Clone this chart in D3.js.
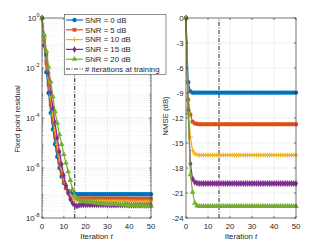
<!DOCTYPE html>
<html>
<head>
<meta charset="utf-8">
<script src="https://cdn.jsdelivr.net/npm/d3@7"></script>
<style>
  body { margin: 0; background: #fff; }
  text { font-family: "Liberation Sans", Arial, sans-serif; fill: #262626; }
</style>
</head>
<body>
<script>
// iterations 0..50
var iters = d3.range(0, 51);
var labels = ['SNR = 0 dB', 'SNR = 5 dB', 'SNR = 10 dB', 'SNR = 15 dB', 'SNR = 20 dB'];
var colors = ['#0072BD', '#D95319', '#EDB120', '#7E2F8E', '#77AC30'];
var shapes = ['circle', 'square', 'plus', 'diamond', 'triangle'];
var trainIter = 15;

// fixed point residual, one per SNR
var res0 = [1, 7.9e-2, 6.8e-3, 1.0e-3, 1.6e-4, 3.5e-5, 8.9e-6, 2.8e-6, 1.0e-6, 4.5e-7,
  2.5e-7, 1.6e-7, 1.2e-7, 1.0e-7, 9.3e-8, 9.1e-8, 8.9e-8, 8.9e-8, 8.9e-8, 8.9e-8,
  8.9e-8, 8.9e-8, 8.9e-8, 8.9e-8, 8.9e-8, 8.9e-8, 8.9e-8, 8.9e-8, 8.9e-8, 8.9e-8,
  8.9e-8, 8.9e-8, 8.9e-8, 8.9e-8, 8.9e-8, 8.9e-8, 8.9e-8, 8.9e-8, 8.9e-8, 8.9e-8,
  8.9e-8, 8.9e-8, 8.9e-8, 8.9e-8, 8.9e-8, 8.9e-8, 8.9e-8, 8.9e-8, 8.9e-8, 8.9e-8, 8.9e-8];
var res5 = [1, 1.3e-1, 1.6e-2, 2.2e-3, 3.5e-4, 7.0e-5, 1.8e-5, 5.0e-6, 1.6e-6, 6.3e-7,
  2.8e-7, 1.6e-7, 1.05e-7, 8.0e-8, 6.8e-8, 6.4e-8, 6.2e-8, 6.1e-8, 6.0e-8, 6.0e-8,
  6.0e-8, 6.0e-8, 6.0e-8, 6.0e-8, 6.0e-8, 6.0e-8, 6.0e-8, 6.0e-8, 6.0e-8, 6.0e-8,
  6.0e-8, 6.0e-8, 6.0e-8, 6.0e-8, 6.0e-8, 6.0e-8, 6.0e-8, 6.0e-8, 6.0e-8, 6.0e-8,
  5.9e-8, 5.9e-8, 5.9e-8, 5.9e-8, 5.9e-8, 5.9e-8, 5.9e-8, 5.9e-8, 5.9e-8, 5.9e-8, 5.9e-8];
var res10 = [1, 1.6e-1, 2.5e-2, 4.0e-3, 7.0e-4, 1.4e-4, 3.2e-5, 8.9e-6, 2.8e-6, 1.0e-6,
  4.0e-7, 2.0e-7, 1.1e-7, 7.9e-8, 6.3e-8, 5.6e-8, 5.2e-8, 5.0e-8, 4.9e-8, 4.9e-8,
  4.9e-8, 4.9e-8, 4.9e-8, 4.8e-8, 4.8e-8, 4.8e-8, 4.8e-8, 4.8e-8, 4.8e-8, 4.7e-8,
  4.7e-8, 4.7e-8, 4.7e-8, 4.7e-8, 4.7e-8, 4.6e-8, 4.6e-8, 4.6e-8, 4.6e-8, 4.6e-8,
  4.6e-8, 4.5e-8, 4.5e-8, 4.5e-8, 4.5e-8, 4.5e-8, 4.4e-8, 4.4e-8, 4.4e-8, 4.4e-8, 4.4e-8];
var res15 = [1, 2.0e-1, 3.5e-2, 6.3e-3, 1.1e-3, 2.5e-4, 6.3e-5, 1.6e-5, 4.5e-6, 1.4e-6,
  5.0e-7, 2.0e-7, 1.0e-7, 5.6e-8, 4.0e-8, 3.2e-8, 3.0e-8, 3.2e-8, 3.3e-8, 3.4e-8,
  3.4e-8, 3.4e-8, 3.4e-8, 3.4e-8, 3.4e-8, 3.4e-8, 3.4e-8, 3.4e-8, 3.4e-8, 3.4e-8,
  3.3e-8, 3.3e-8, 3.3e-8, 3.3e-8, 3.3e-8, 3.3e-8, 3.3e-8, 3.3e-8, 3.3e-8, 3.3e-8,
  3.2e-8, 3.2e-8, 3.2e-8, 3.2e-8, 3.2e-8, 3.2e-8, 3.2e-8, 3.2e-8, 3.2e-8, 3.2e-8, 3.2e-8];
var res20 = [1, 2.1e-1, 4.7e-2, 1.1e-2, 2.8e-3, 7.1e-4, 1.8e-4, 6.3e-5, 2.2e-5, 8.9e-6,
  3.5e-6, 1.6e-6, 7.1e-7, 3.2e-7, 1.4e-7, 7.9e-8, 6.3e-8, 5.4e-8, 5.0e-8, 4.7e-8,
  4.5e-8, 4.4e-8, 4.3e-8, 4.2e-8, 4.1e-8, 4.0e-8, 3.9e-8, 3.8e-8, 3.8e-8, 3.7e-8,
  3.7e-8, 3.6e-8, 3.6e-8, 3.5e-8, 3.5e-8, 3.5e-8, 3.4e-8, 3.4e-8, 3.4e-8, 3.3e-8,
  3.3e-8, 3.3e-8, 3.2e-8, 3.2e-8, 3.2e-8, 3.1e-8, 3.1e-8, 3.1e-8, 3.0e-8, 3.0e-8, 3.0e-8];

// NMSE in dB, one per SNR
var nmse0 = [0, -7.7, -8.8, -8.95, -8.95, -8.95, -8.95, -8.95, -8.95, -8.95,
  -8.95, -8.95, -8.95, -8.95, -8.95, -8.95, -8.95, -8.95, -8.95, -8.95,
  -8.95, -8.95, -8.95, -8.95, -8.95, -8.95, -8.95, -8.95, -8.95, -8.95,
  -8.95, -8.95, -8.95, -8.95, -8.95, -8.95, -8.95, -8.95, -8.95, -8.95,
  -8.95, -8.95, -8.95, -8.95, -8.95, -8.95, -8.95, -8.95, -8.95, -8.95, -8.95];
var nmse5 = [0, -9.8, -11.6, -12.45, -12.65, -12.7, -12.75, -12.75, -12.75, -12.75,
  -12.75, -12.75, -12.75, -12.75, -12.75, -12.75, -12.75, -12.75, -12.75, -12.75,
  -12.75, -12.75, -12.75, -12.75, -12.75, -12.75, -12.75, -12.75, -12.75, -12.75,
  -12.75, -12.75, -12.75, -12.75, -12.75, -12.75, -12.75, -12.75, -12.75, -12.75,
  -12.75, -12.75, -12.75, -12.75, -12.75, -12.75, -12.75, -12.75, -12.75, -12.75, -12.75];
var nmse10 = [0, -10.8, -14.3, -15.9, -16.3, -16.4, -16.45, -16.45, -16.45, -16.45,
  -16.45, -16.45, -16.45, -16.45, -16.45, -16.45, -16.45, -16.45, -16.45, -16.45,
  -16.45, -16.45, -16.45, -16.45, -16.45, -16.45, -16.45, -16.45, -16.45, -16.45,
  -16.45, -16.45, -16.45, -16.45, -16.45, -16.45, -16.45, -16.45, -16.45, -16.45,
  -16.45, -16.45, -16.45, -16.45, -16.45, -16.45, -16.45, -16.45, -16.45, -16.45, -16.45];
var nmse15 = [0, -11.1, -17.5, -19.3, -19.7, -19.8, -19.85, -19.85, -19.85, -19.85,
  -19.85, -19.85, -19.85, -19.85, -19.85, -19.85, -19.85, -19.85, -19.85, -19.85,
  -19.85, -19.85, -19.85, -19.85, -19.85, -19.85, -19.85, -19.85, -19.85, -19.85,
  -19.85, -19.85, -19.85, -19.85, -19.85, -19.85, -19.85, -19.85, -19.85, -19.85,
  -19.85, -19.85, -19.85, -19.85, -19.85, -19.85, -19.85, -19.85, -19.85, -19.85, -19.85];
var nmse20 = [0, -11.4, -18.8, -20.9, -22.2, -22.5, -22.6, -22.6, -22.6, -22.6,
  -22.6, -22.6, -22.6, -22.6, -22.6, -22.6, -22.6, -22.6, -22.6, -22.6,
  -22.6, -22.6, -22.6, -22.6, -22.6, -22.6, -22.6, -22.6, -22.6, -22.6,
  -22.6, -22.6, -22.6, -22.6, -22.6, -22.6, -22.6, -22.6, -22.6, -22.6,
  -22.6, -22.6, -22.6, -22.6, -22.6, -22.6, -22.6, -22.6, -22.6, -22.6, -22.6];

var resSeries = [res0, res5, res10, res15, res20];
var nmseSeries = [nmse0, nmse5, nmse10, nmse15, nmse20];

var xTicks = [0, 10, 20, 30, 40, 50];
var resTicks = [1e0, 1e-2, 1e-4, 1e-6, 1e-8];
var nmseTicks = [0, -3, -6, -9, -12, -15, -18, -21, -24];

var width = 327, height = 245;
var axisColor = '#262626', gridColor = '#c8c8c8';
var fs = 7.8;

var svg = d3.select('body').append('svg')
  .attr('width', width)
  .attr('height', height);

var x1 = d3.scaleLinear().domain([0, 50]).range([42, 151]);
var y1 = d3.scaleLog().domain([1e-8, 1]).range([218, 18]);
var x2 = d3.scaleLinear().domain([0, 50]).range([186, 296]);
var y2 = d3.scaleLinear().domain([-24, 0]).range([218, 18]);

function marker(sel, shape, color) {
  if (shape == 'circle') {
    sel.append('circle').attr('r', 2.2).attr('fill', color);
  } else if (shape == 'square') {
    sel.append('rect').attr('x', -1.9).attr('y', -1.9).attr('width', 3.8).attr('height', 3.8).attr('fill', color);
  } else if (shape == 'plus') {
    sel.append('path').attr('d', 'M-2.3,0H2.3M0,-2.3V2.3').attr('stroke', color).attr('stroke-width', 1.1);
  } else if (shape == 'diamond') {
    sel.append('path').attr('d', d3.symbol(d3.symbolDiamond, 14)()).attr('fill', color);
  } else {
    sel.append('path').attr('d', d3.symbol(d3.symbolTriangle, 14)()).attr('fill', color);
  }
}

function drawPanel(x, y, series, yTicks, yFmt, log) {
  var g = svg.append('g');
  var x0 = x.range()[0], xe = x.range()[1];
  var yb = y.range()[0], yt = y.range()[1];

  // minor grid for log axis
  if (log) {
    var minors = [];
    for (var e = -8; e < 0; e++) {
      for (var m = 2; m < 10; m++) minors.push(m * Math.pow(10, e));
    }
    g.selectAll('.mgrid').data(minors).enter().append('line')
      .attr('x1', x0).attr('x2', xe)
      .attr('y1', function(d) { return y(d); }).attr('y2', function(d) { return y(d); })
      .attr('stroke', '#dedede').attr('stroke-width', 0.5).attr('stroke-dasharray', '0.8,1.2');
    g.selectAll('.mtick').data(minors).enter().append('path')
      .attr('d', function(d) { return 'M' + x0 + ',' + y(d) + 'h1.2M' + xe + ',' + y(d) + 'h-1.2'; })
      .attr('stroke', axisColor).attr('stroke-width', 0.5);
  }
  // major grid
  g.selectAll('.hgrid').data(yTicks).enter().append('line')
    .attr('x1', x0).attr('x2', xe)
    .attr('y1', function(d) { return y(d); }).attr('y2', function(d) { return y(d); })
    .attr('stroke', gridColor).attr('stroke-width', 0.6).attr('stroke-dasharray', '1,1.2');
  g.selectAll('.vgrid').data(xTicks).enter().append('line')
    .attr('x1', function(d) { return x(d); }).attr('x2', function(d) { return x(d); })
    .attr('y1', yb).attr('y2', yt)
    .attr('stroke', gridColor).attr('stroke-width', 0.6).attr('stroke-dasharray', '1,1.2');

  // training line
  g.append('line')
    .attr('x1', x(trainIter)).attr('x2', x(trainIter))
    .attr('y1', yb).attr('y2', yt)
    .attr('stroke', '#3a3a3a').attr('stroke-width', 1.1)
    .attr('stroke-dasharray', '4,1.5,1,1.5');

  // series
  series.forEach(function(s, i) {
    var line = d3.line()
      .x(function(d, j) { return x(iters[j]); })
      .y(function(d) { return y(d); });
    g.append('path').datum(s)
      .attr('d', line)
      .attr('fill', 'none')
      .attr('stroke', colors[i])
      .attr('stroke-width', 1.2);
    s.forEach(function(d, j) {
      var mk = g.append('g').attr('transform', 'translate(' + x(iters[j]) + ',' + y(d) + ')');
      marker(mk, shapes[i], colors[i]);
    });
  });

  // box + ticks
  g.append('rect')
    .attr('x', x0).attr('y', yt).attr('width', xe - x0).attr('height', yb - yt)
    .attr('fill', 'none').attr('stroke', axisColor).attr('stroke-width', 0.6);
  g.selectAll('.xtick').data(xTicks).enter().append('path')
    .attr('d', function(d) { return 'M' + x(d) + ',' + yb + 'v-2M' + x(d) + ',' + yt + 'v2'; })
    .attr('stroke', axisColor).attr('stroke-width', 0.6);
  g.selectAll('.ytick').data(yTicks).enter().append('path')
    .attr('d', function(d) { return 'M' + x0 + ',' + y(d) + 'h2M' + xe + ',' + y(d) + 'h-2'; })
    .attr('stroke', axisColor).attr('stroke-width', 0.6);

  // tick labels
  g.selectAll('.xlab').data(xTicks).enter().append('text')
    .attr('x', function(d) { return x(d); }).attr('y', 228.5)
    .attr('text-anchor', 'middle').attr('font-size', fs)
    .text(function(d) { return d; });
  var yl = g.selectAll('.ylab').data(yTicks).enter().append('text')
    .attr('x', x0 - 2.5).attr('y', function(d) { return y(d) + 2.8; })
    .attr('text-anchor', 'end').attr('font-size', fs);
  yFmt(yl);

  // x label
  var xl = g.append('text')
    .attr('x', (x0 + xe) / 2).attr('y', 238.5)
    .attr('text-anchor', 'middle').attr('font-size', fs);
  xl.append('tspan').text('Iteration ');
  xl.append('tspan').attr('font-style', 'italic').text('t');
}

drawPanel(x1, y1, resSeries, resTicks, function(sel) {
  sel.each(function(d) {
    var t = d3.select(this);
    t.append('tspan').text('10');
    t.append('tspan').attr('dy', -3.4).attr('font-size', 5.5).text(Math.round(Math.log10(d)));
  });
}, true);

drawPanel(x2, y2, nmseSeries, nmseTicks, function(sel) {
  sel.text(function(d) { return d; });
}, false);

// y labels
svg.append('text')
  .attr('transform', 'translate(20,119) rotate(-90)')
  .attr('text-anchor', 'middle').attr('font-size', fs)
  .text('Fixed point residual');
svg.append('text')
  .attr('transform', 'translate(168,116) rotate(-90)')
  .attr('text-anchor', 'middle').attr('font-size', fs)
  .text('NMSE (dB)');

// legend
var leg = svg.append('g');
leg.append('rect')
  .attr('x', 64.5).attr('y', 14.5).attr('width', 101.5).attr('height', 60)
  .attr('fill', '#fff').attr('stroke', axisColor).attr('stroke-width', 0.5);
labels.forEach(function(l, i) {
  var yy = 20 + i * 9.8;
  leg.append('line').attr('x1', 66).attr('x2', 83).attr('y1', yy).attr('y2', yy)
    .attr('stroke', colors[i]).attr('stroke-width', 1.2);
  marker(leg.append('g').attr('transform', 'translate(74.5,' + yy + ')'), shapes[i], colors[i]);
  leg.append('text').attr('x', 85).attr('y', yy + 2.8).attr('font-size', fs).text(l);
});
var yy = 20 + 5 * 9.8;
leg.append('line').attr('x1', 66).attr('x2', 83).attr('y1', yy).attr('y2', yy)
  .attr('stroke', '#3a3a3a').attr('stroke-width', 1.1).attr('stroke-dasharray', '4,1.5,1,1.5');
leg.append('text').attr('x', 85).attr('y', yy + 2.8).attr('font-size', fs).text('# iterations at training');
</script>
</body>
</html>
